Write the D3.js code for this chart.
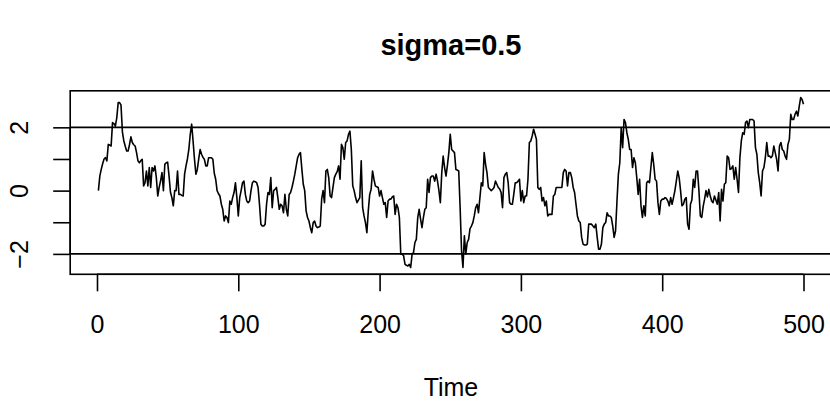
<!DOCTYPE html>
<html>
<head>
<meta charset="utf-8">
<script src="https://cdn.jsdelivr.net/npm/d3@7"></script>
<style>
  html, body { margin: 0; padding: 0; background: #ffffff; }
  svg { display: block; }
  text { font-family: "Liberation Sans", Arial, Helvetica, sans-serif; fill: #000; }
</style>
</head>
<body>
<svg id="chart" width="830" height="403"></svg>
<script>
// ---- data ----
const title = "sigma=0.5";
const xLabel = "Time";
const startTime = 1;
const seriesValues = [
  0.00, 0.46, 0.67, 0.85, 1.00, 1.04, 0.94, 1.46, 1.44, 1.41,
  2.15, 2.12, 2.04, 2.30, 2.78, 2.78, 2.70, 1.85, 1.57, 1.40,
  1.25, 1.25, 1.45, 1.70, 1.52, 1.45, 1.41, 1.20, 0.94, 0.88,
  0.95, 0.99, 0.15, 0.25, 0.62, 0.15, 0.73, 0.10, 0.73, 0.62,
  0.78, 0.41, -0.17, 0.10, 0.31, 0.57, 0.00, 0.83, 0.88, 0.90,
  0.46, -0.05, -0.22, -0.48, 0.00, 0.00, 0.62, -0.12, -0.12, -0.15,
  -0.17, 0.52, 0.78, 1.00, 1.30, 1.78, 2.10, 1.57, 0.99, 0.52,
  0.67, 1.00, 1.30, 1.15, 1.05, 0.99, 0.78, 0.78, 1.04, 1.04,
  1.04, 0.99, 0.55, 0.36, 0.00, -0.10, -0.17, -0.43, -0.59, -0.96,
  -0.80, -0.85, -1.01, -0.33, -0.43, -0.22, -0.06, 0.25, -0.22, -0.80,
  -0.22, 0.00, 0.25, 0.30, -0.12, -0.33, -0.38, -0.33, 0.00, 0.25,
  0.30, 0.28, 0.25, 0.10, -0.43, -1.06, -1.12, -1.12, -1.06, -0.43,
  -0.06, -0.12, 0.41, -0.54, 0.00, 0.04, 0.10, -0.22, -0.59, -0.43,
  -0.48, -0.70, -0.12, -0.59, -0.80, -0.12, -0.06, 0.10, 0.30, 0.52,
  0.78, 1.04, 1.15, 1.20, 0.67, 0.20, 0.00, -0.64, -0.85, -0.96,
  -1.17, -1.33, -1.01, -0.96, -1.12, -1.17, -1.15, -1.12, -0.27, 0.00,
  -0.38, 0.62, 0.67, 0.41, -0.17, -0.22, 0.10, 0.41, 0.52, 0.60,
  0.78, 0.36, 1.46, 1.36, 0.99, 1.52, 1.57, 1.78, 1.88, 1.30,
  0.15, 0.00, -0.22, -0.38, -0.30, -0.22, 0.94, -0.54, -0.80, -1.01,
  -1.33, -0.64, -0.12, 0.04, 0.62, 0.36, 0.15, 0.12, 0.10, -0.17,
  0.00, -0.22, -0.43, -0.38, -0.85, -0.33, -0.27, -0.27, -0.20, -0.17,
  -0.75, -0.43, -0.54, -0.85, -2.01, -2.01, -2.06, -2.33, -2.36, -2.38,
  -2.33, -2.43, -2.01, -1.96, -1.64, -1.54, -0.85, -0.59, -0.90, -1.17,
  -0.85, -0.59, -0.54, 0.36, -0.06, 0.41, 0.46, 0.46, 0.30, 0.52,
  0.30, 0.00, -0.38, 0.57, 1.09, 0.73, 0.46, 0.80, 1.20, 1.78,
  1.30, 1.25, 1.20, 0.67, 0.65, 0.62, -0.54, -1.90, -2.43, -1.43,
  -2.00, -1.64, -1.54, -1.20, -1.12, -1.01, -0.80, -0.54, -0.43, -0.70,
  -0.22, 0.25, 0.15, 1.20, 0.83, 0.57, 0.10, 0.05, 0.00, 0.04,
  0.10, 0.30, 0.20, 0.10, 0.05, -0.06, -0.54, 0.41, 0.52, 0.57,
  0.25, -0.38, -0.43, -0.43, -0.10, 0.25, 0.25, 0.30, 0.36, -0.33,
  0.00, -0.38, -0.17, -0.17, 0.36, 1.52, 1.57, 1.73, 1.94, 1.78,
  1.62, 0.10, 0.04, 0.10, -0.33, -0.22, -0.48, -0.33, -0.80, -0.75,
  -0.75, -0.75, -0.17, -0.12, 0.10, 0.10, 0.10, 0.10, 0.10, 0.57,
  0.67, 0.62, 0.15, 0.57, 0.57, 0.41, 0.10, -0.06, -0.43, -0.80,
  -0.96, -1.01, -1.48, -1.69, -1.72, -1.72, -1.69, -1.06, -1.06, -1.06,
  -1.12, -1.17, -1.06, -1.48, -1.85, -1.85, -1.69, -1.17, -1.06, -1.01,
  -0.70, -0.80, -0.80, -0.85, -1.12, -1.48, -1.27, -0.33, 0.52, 0.88,
  1.99, 1.36, 2.25, 2.15, 1.83, 1.62, 1.30, 1.30, 0.73, 1.04,
  0.88, 0.41, -0.12, 0.36, -0.48, -0.85, -0.48, -0.80, 0.25, 0.30,
  0.25, 0.73, 1.20, 0.83, 0.36, 0.30, -0.38, -0.75, -0.33, -0.27,
  -0.27, -0.22, -0.25, -0.33, -0.48, -0.22, -0.43, -0.22, 0.00, 0.30,
  0.62, 0.41, 0.00, -0.48, -0.43, -0.27, -0.22, -1.06, -1.22, -0.43,
  -0.30, 0.36, 0.10, 0.62, 0.62, 0.00, -0.80, -0.85, -0.50, -0.27,
  0.00, -0.20, 0.04, -0.17, -0.33, -0.38, -0.17, -0.30, -0.43, -0.06,
  -0.96, 0.04, -0.33, 0.20, 0.25, 1.09, 1.04, 0.67, 0.70, 0.78,
  0.36, 0.73, 0.36, -0.06, 1.04, 1.57, 1.83, 1.78, 2.15, 2.20,
  1.99, 2.25, 2.25, 2.25, 2.20, 1.36, 1.15, 0.57, 0.25, -0.17,
  0.62, 0.73, 1.04, 1.52, 1.09, 1.09, 1.04, 1.10, 1.41, 1.20,
  0.99, 0.62, 1.41, 1.52, 1.30, 1.25, 1.09, 0.99, 1.46, 1.62,
  2.41, 2.25, 2.25, 2.41, 2.51, 2.36, 2.67, 2.94, 2.88, 2.73
];
const refLines = [2, -2];
const xTicks = [0, 100, 200, 300, 400, 500];
const yTicks = [-2, -1, 0, 1, 2];
const yTickLabels = ["\u22122", "", "0", "", "2"];

// ---- layout ----
const svg = d3.select("#chart");
const plot = { left: 70.2, right: 831.7, top: 90.8, bottom: 274.3 };
const lw = 1.6;

const times = seriesValues.map((v, i) => startTime + i);
function rExtend(ext) { const d = (ext[1] - ext[0]) * 0.04; return [ext[0] - d, ext[1] + d]; }

const x = d3.scaleLinear().domain(rExtend(d3.extent(times))).range([plot.left, plot.right]);
const y = d3.scaleLinear().domain(rExtend(d3.extent(seriesValues))).range([plot.bottom, plot.top]);

// clip
svg.append("defs").append("clipPath").attr("id", "clip")
  .append("rect").attr("x", plot.left).attr("y", plot.top)
  .attr("width", plot.right - plot.left).attr("height", plot.bottom - plot.top);

// series
const line = d3.line().x((d, i) => x(times[i])).y(d => y(d));
svg.append("path").datum(seriesValues)
  .attr("clip-path", "url(#clip)")
  .attr("fill", "none").attr("stroke", "#000").attr("stroke-width", lw)
  .attr("stroke-linejoin", "round")
  .attr("d", line);

// reference lines
svg.append("g").attr("clip-path", "url(#clip)").selectAll("line").data(refLines).join("line")
  .attr("x1", plot.left).attr("x2", plot.right)
  .attr("y1", d => y(d)).attr("y2", d => y(d))
  .attr("stroke", "#000").attr("stroke-width", lw);

// box
svg.append("rect").attr("x", plot.left).attr("y", plot.top)
  .attr("width", plot.right - plot.left).attr("height", plot.bottom - plot.top)
  .attr("fill", "none").attr("stroke", "#000").attr("stroke-width", lw);

// x axis
const xAxis = d3.axisBottom(x).tickValues(xTicks).tickSize(17).tickSizeOuter(0).tickFormat(d3.format("d"));
const gx = svg.append("g").attr("transform", `translate(0,${plot.bottom})`).call(xAxis);
gx.select(".domain").attr("d", `M${x(xTicks[0])},0H${x(xTicks[xTicks.length - 1])}`)
  .attr("stroke", "#000").attr("stroke-width", lw);
gx.selectAll(".tick line").attr("stroke", "#000").attr("stroke-width", lw);
gx.selectAll(".tick text").attr("y", 59).attr("dy", null)
  .style("font-size", "25px").style("font-family", "'Liberation Sans', Arial, sans-serif");

// y axis
const yAxis = d3.axisLeft(y).tickValues(yTicks).tickSize(17).tickSizeOuter(0)
  .tickFormat((d, i) => yTickLabels[i]);
const gy = svg.append("g").attr("transform", `translate(${plot.left},0)`).call(yAxis);
gy.select(".domain").attr("d", `M0,${y(yTicks[0])}V${y(yTicks[yTicks.length - 1])}`)
  .attr("stroke", "#000").attr("stroke-width", lw);
gy.selectAll(".tick line").attr("stroke", "#000").attr("stroke-width", lw);
gy.selectAll(".tick text")
  .attr("x", null).attr("dy", null)
  .attr("text-anchor", "middle")
  .attr("transform", "translate(-42,0) rotate(-90)")
  .style("font-size", "25px").style("font-family", "'Liberation Sans', Arial, sans-serif");

// title
svg.append("text").attr("x", (plot.left + plot.right) / 2).attr("y", 55)
  .attr("text-anchor", "middle").style("font-size", "29px").style("font-weight", "bold")
  .text(title);

// x label
svg.append("text").attr("x", (plot.left + plot.right) / 2).attr("y", 396)
  .attr("text-anchor", "middle").style("font-size", "25px")
  .text(xLabel);
</script>
</body>
</html>
